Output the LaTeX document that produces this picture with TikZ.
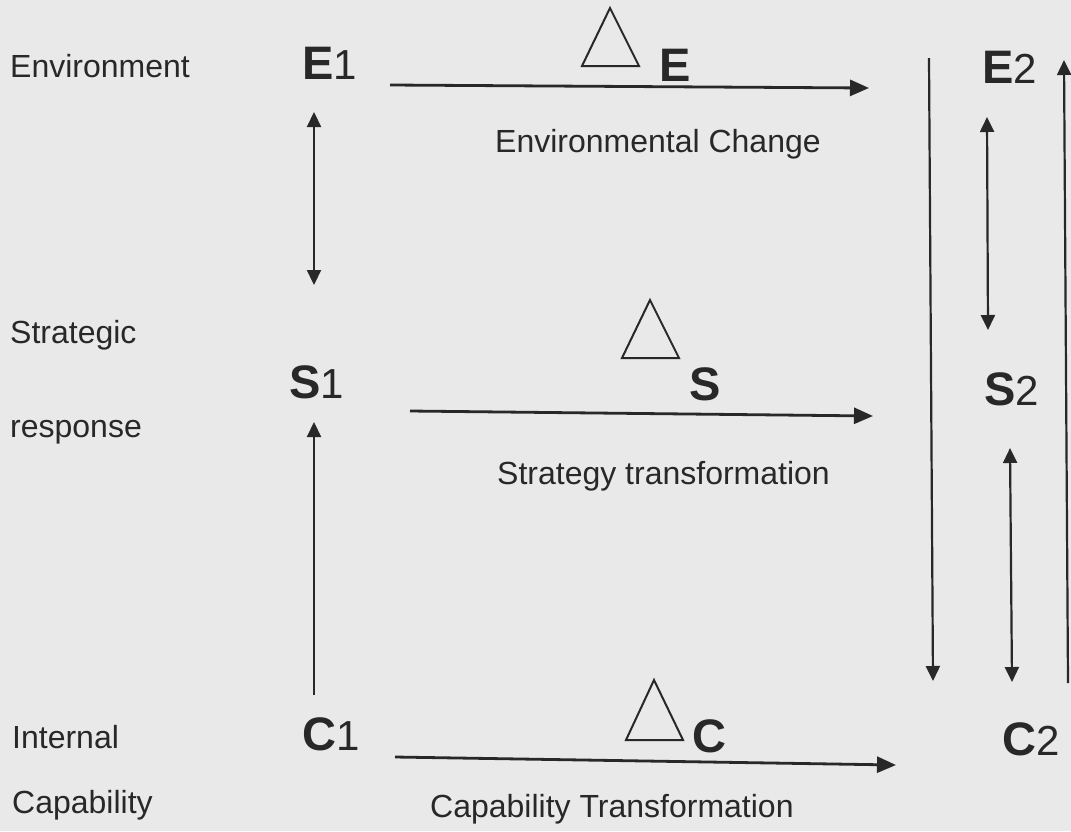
\documentclass[tikz,border=0pt]{standalone}
\usepackage{fontspec}
\setmainfont{Liberation Sans}
\usetikzlibrary{arrows.meta}
\definecolor{paper}{RGB}{233,233,233}
\definecolor{ink}{RGB}{40,40,40}
\tikzset{
  lbl/.style={anchor=base west,inner sep=0pt,text=ink,font=\fontsize{32}{32}\selectfont},
  sym/.style={anchor=base west,inner sep=0pt,text=ink,font=\fontsize{47}{47}\selectfont\bfseries},
  vline/.style={draw=ink,line width=2.2pt},
  hline/.style={draw=ink,line width=2.8pt},
  vtip/.style={-{Triangle[length=15pt,width=14pt]}},
  vtips/.style={{Triangle[length=15pt,width=14pt]}-{Triangle[length=15pt,width=14pt]}},
  htip/.style={-{Triangle[length=19pt,width=16pt]}},
  delta/.style={draw=ink,line width=2pt,line join=miter},
}
\newcommand{\subn}[1]{{\fontsize{42}{42}\selectfont\mdseries #1}}
\begin{document}
\begin{tikzpicture}[x=1pt,y=-1pt]
\fill[paper] (0,0) rectangle (1071,831);
\useasboundingbox (0,0) rectangle (1071,831);
% left labels
\node[lbl] (env) at (10,77) {Environment};
\node[lbl] (strat) at (10,343) {Strategic};
\node[lbl] (resp) at (10,437) {response};
\node[lbl] (int) at (12,748) {Internal};
\node[lbl] (cap) at (12,813) {Capability};
% symbols
\node[sym] (E1) at (302,79) {E\subn{1}};
\node[sym] (S1) at (289,398) {S\subn{1}};
\node[sym] (C1) at (302,750) {C\subn{1}};
\node[sym] (E) at (659,81) {E};
\node[sym] (S) at (689,400) {S};
\node[sym] (C) at (692,752) {C};
\node[sym] (E2) at (982,83) {E\subn{2}};
\node[sym] (S2) at (984,405) {S\subn{2}};
\node[sym] (C2) at (1002,755) {C\subn{2}};
% captions
\node[lbl] (envch) at (495,152) {Environmental Change};
\node[lbl] (strtr) at (497,484) {Strategy transformation};
\node[lbl] (captr) at (430,817) {Capability Transformation};
% delta triangles
\draw[delta] (610,8) -- (639,66) -- (582,66) -- cycle;
\draw[delta] (650,300) -- (679,358) -- (622,358) -- cycle;
\draw[delta] (654,680) -- (683,740) -- (626,740) -- cycle;
% coordinates
\coordinate (a1) at (314,112); \coordinate (a2) at (314,285);
\coordinate (b1) at (314,695); \coordinate (b2) at (314,422);
\coordinate (h1a) at (390,85); \coordinate (h1b) at (869,88);
\coordinate (h2a) at (410,411); \coordinate (h2b) at (873,416);
\coordinate (h3a) at (395,757); \coordinate (h3b) at (896,765);
\coordinate (v1a) at (929,58); \coordinate (v1b) at (933,681);
\coordinate (v2a) at (987,117); \coordinate (v2b) at (988,330);
\coordinate (v3a) at (1010,448); \coordinate (v3b) at (1012,682);
\coordinate (v4a) at (1068,683); \coordinate (v4b) at (1064,60);
% connectors
\draw[vline,vtips] (a1) -- (a2);
\draw[vline,vtip] (b1) -- (b2);
\draw[hline,htip] (h1a) -- (h1b);
\draw[hline,htip] (h2a) -- (h2b);
\draw[hline,htip] (h3a) -- (h3b);
\draw[vline,vtip] (v1a) -- (v1b);
\draw[vline,vtips] (v2a) -- (v2b);
\draw[vline,vtips] (v3a) -- (v3b);
\draw[vline,vtip] (v4a) -- (v4b);
\end{tikzpicture}
\end{document}
